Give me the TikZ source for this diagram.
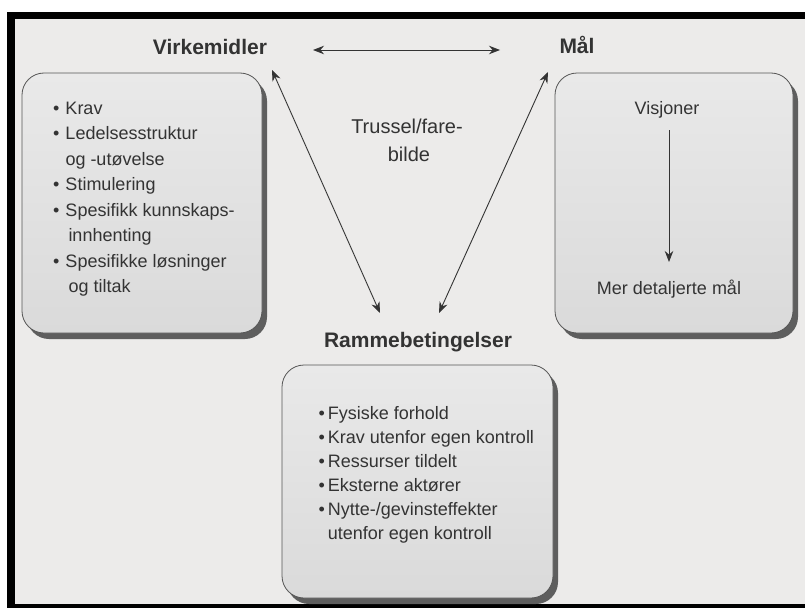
\documentclass[tikz,border=0pt]{standalone}
\usepackage{fontspec}
\setmainfont{Liberation Sans}
\usetikzlibrary{arrows.meta,shadows}
\definecolor{bgc}{HTML}{ECEBEA}
\definecolor{ink}{HTML}{333333}
\definecolor{boxtop}{HTML}{E9E9E9}
\definecolor{boxbot}{HTML}{DADADA}
\definecolor{boxline}{HTML}{555555}
\definecolor{shadowc}{HTML}{5E5E5E}
\begin{document}
\begin{tikzpicture}[x=1pt,y=-1pt,
  box/.style={draw=boxline, line width=0.8pt, rounded corners=22pt,
    top color=boxtop, bottom color=boxbot,
    drop shadow={shadow xshift=5pt, shadow yshift=-6pt, fill=shadowc, opacity=1},
    inner sep=0pt},
  head/.style={font=\fontsize{21}{25}\selectfont\bfseries, text=ink, inner sep=0pt, anchor=base},
  body/.style={font=\fontsize{18}{25.5}\selectfont, text=ink, inner sep=0pt},
  trus/.style={font=\fontsize{20}{28}\selectfont, text=ink, inner sep=0pt, anchor=base},
  tip/.style={Stealth[length=11pt,width=8.5pt]},
  arr/.style={draw=ink, line width=0.9pt, -{Stealth[length=11pt,width=8.5pt]}},
  dbl/.style={draw=ink, line width=0.9pt, {Stealth[length=11pt,width=8.5pt]}-{Stealth[length=11pt,width=8.5pt]}}]

% canvas and frame
\useasboundingbox (0,0) rectangle (805,610);
\fill[white] (0,0) rectangle (805,610);
\fill[bgc] (15,19) rectangle (805,604);
\fill[black] (7,12) rectangle (805,19);
\fill[black] (7,12) rectangle (15,608);
\fill[black] (7,604) rectangle (805,608);

% boxes
\node[box, minimum width=240pt, minimum height=260pt] (lbox) at (142,203) {};
\node[box, minimum width=238pt, minimum height=260pt] (rbox) at (674,203) {};
\node[box, minimum width=271pt, minimum height=233pt] (bbox) at (417.5,481.5) {};

% headings
\node[head] (virk) at (210,54.5) {Virkemidler};
\node[head] (maal) at (577,54) {Mål};
\node[head] (ramme) at (418,347.5) {Rammebetingelser};

% centre text
\node[trus] (trus1) at (407,133) {Trussel/fare-};
\node[trus] (trus2) at (409,161) {bilde};

% left list
\node[body, anchor=north west] (llist) at (53,96.2) {%
\begin{tabular}{@{}l@{\hspace{6pt}}l@{}}
• & Krav\\
• & Ledelsesstruktur\\
  & og -utøvelse\\
• & Stimulering\\
• & Spesifikk kunnskaps-\\
  & \hspace{3pt}innhenting\\
• & Spesifikke løsninger\\
  & \hspace{3pt}og tiltak
\end{tabular}};

% right box content
\node[body, anchor=base] (visj) at (667,114.5) {Visjoner};
\node[body, anchor=base] (mer) at (669,294.5) {Mer detaljerte mål};

% bottom list
\node[body, anchor=north west, font=\fontsize{18}{24}\selectfont] (blist) at (318.4,402.7) {%
\begin{tabular}{@{}l@{\hspace{3pt}}l@{}}
• & Fysiske forhold\\
• & Krav utenfor egen kontroll\\
• & Ressurser tildelt\\
• & Eksterne aktører\\
• & Nytte-/gevinsteffekter\\
  & utenfor egen kontroll
\end{tabular}};

% connector end points
\coordinate (h1) at (313,50);
\coordinate (h2) at (500,50);
\coordinate (d1a) at (272,70);
\coordinate (d1b) at (380,313);
\coordinate (d2a) at (548,72);
\coordinate (d2b) at (439,313);
\coordinate (v1) at (669,130);
\coordinate (v2) at (669,262);

% connectors
\draw[dbl] (h1) -- (h2);
\draw[dbl] (d1a) -- (d1b);
\draw[dbl] (d2a) -- (d2b);
\draw[arr] (v1) -- (v2);
\end{tikzpicture}
\end{document}
